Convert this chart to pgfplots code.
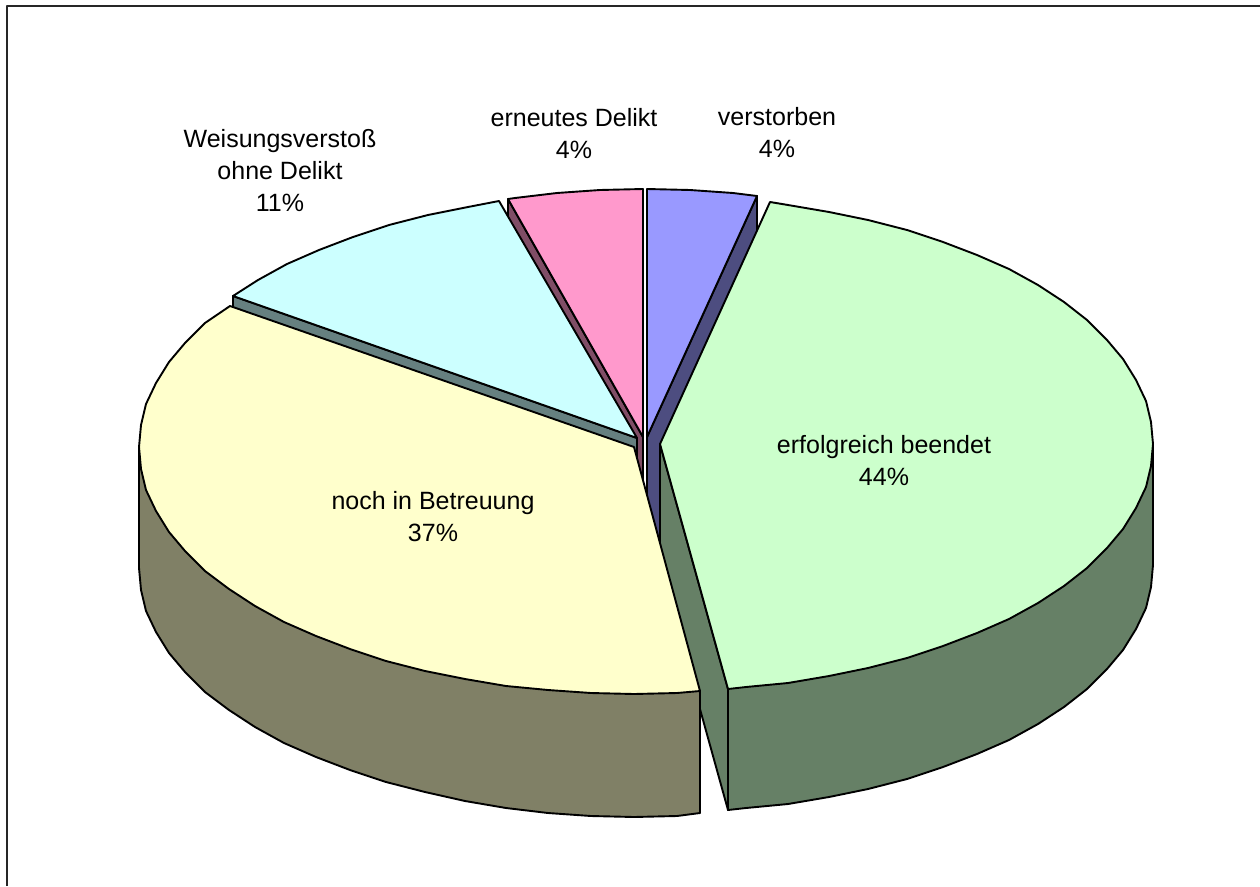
\documentclass[border=0pt]{standalone}
\usepackage{pgfplots}
\usepackage{fontspec}
\setmainfont{Liberation Sans}
\pgfplotsset{compat=1.18}
\definecolor{blueTop}{HTML}{9999FF}\definecolor{blueWall}{HTML}{4D4D80}
\definecolor{greenTop}{HTML}{CCFFCC}\definecolor{greenWall}{HTML}{668066}
\definecolor{yellowTop}{HTML}{FFFFCC}\definecolor{yellowWall}{HTML}{808066}
\definecolor{cyanTop}{HTML}{CCFFFF}\definecolor{cyanWall}{HTML}{668080}
\definecolor{pinkTop}{HTML}{FF99CC}\definecolor{pinkWall}{HTML}{804D66}
\tikzset{slice label/.style={font=\fontsize{25}{32}\selectfont, align=center, anchor=center, inner sep=0pt}}
\begin{document}
\begin{tikzpicture}
\begin{axis}[
  scale only axis, width=1260pt, height=886pt,
  xmin=0, xmax=1260, ymin=0, ymax=886, y dir=reverse,
  hide axis, clip=true,
  every axis plot/.append style={draw=black, line width=1.9pt, line join=round, mark=none},
]
% outer frame
\addplot[line width=2pt, draw=black!85] coordinates {(6.5,886) (6.5,5.5) (1260,5.5)};

% walls at the back
\addplot[fill=pinkWall] coordinates {(508,199) (508,320) (643,558) (643,437)} -- cycle;
\addplot[fill=blueWall] coordinates {(757,196) (757,317) (660,560) (647,560) (647,437)} -- cycle;
\addplot[fill=cyanWall] coordinates {(233,296) (233,417) (637,560) (637,438)} -- cycle;

% cyan top: Weisungsverstoss ohne Delikt
\addplot[fill=cyanTop] coordinates {(637,438) (233,296) (258,280) (287,264) (319,250) (353,237)
  (389,225) (428,215) (468,207) (499,201)} -- cycle;
% pink top: erneutes Delikt
\addplot[fill=pinkTop] coordinates {(643,437) (508,199) (515,198) (557,193) (600,190) (643,189)} -- cycle;
% blue top: verstorben
\addplot[fill=blueTop] coordinates {(647,437) (647,189) (690,190) (733,193) (757,196)} -- cycle;

% green slice: inner wall, outer wall, top
\addplot[fill=greenWall] coordinates {(660,444) (660,565) (728,810) (728,689)} -- cycle;
\addplot[fill=greenWall] coordinates {(1153,444) (1153,565) (1151,587) (1146,608) (1136,629)
  (1123,650) (1107,669) (1087,689) (1064,707) (1038,724) (1009,740) (977,754) (943,767)
  (907,779) (868,789) (829,797) (788,804) (746,808) (728,810) (728,689)} -- cycle;
\addplot[fill=greenTop] coordinates {(660,444) (770,202) (788,205) (829,212) (868,220) (907,230)
  (943,242) (977,255) (1009,269) (1038,285) (1064,302) (1087,320) (1107,340) (1123,359)
  (1136,380) (1146,401) (1151,422) (1153,444) (1151,466) (1146,487) (1136,508) (1123,529)
  (1107,548) (1087,568) (1064,586) (1038,603) (1009,619) (977,633) (943,646) (907,658)
  (868,668) (829,676) (788,683) (746,687) (728,689)} -- cycle;

% yellow slice: outer wall, top
\addplot[fill=yellowWall] coordinates {(139,447) (139,568) (141,590) (146,611) (156,632) (169,653)
  (185,672) (205,692) (229,710) (255,727) (284,743) (316,757) (350,770) (386,782) (425,792)
  (465,801) (506,808) (548,813) (591,816) (634,817) (677,816) (700,813) (700,691)} -- cycle;
\addplot[fill=yellowTop] coordinates {(634,447) (230,306) (205,323) (185,343) (169,362) (156,383)
  (146,404) (141,425) (139,447) (141,469) (146,490) (156,511) (169,532) (185,551) (205,571)
  (229,589) (255,606) (284,622) (316,636) (350,649) (386,661) (425,671) (465,679) (506,686)
  (548,690) (591,693) (634,694) (677,693) (700,691)} -- cycle;

% slice labels
\node[slice label] at (axis cs:777,133) {verstorben\\4\%};
\node[slice label] at (axis cs:574,134) {erneutes Delikt\\4\%};
\node[slice label] at (axis cs:280,171) {Weisungsverstoß\\ohne Delikt\\11\%};
\node[slice label] at (axis cs:884,461) {erfolgreich beendet\\44\%};
\node[slice label] at (axis cs:433,517) {noch in Betreuung\\37\%};
\end{axis}
% the page spans the whole axis rectangle
\useasboundingbox (0,0) rectangle (1260pt,886pt);
\end{tikzpicture}
\end{document}
